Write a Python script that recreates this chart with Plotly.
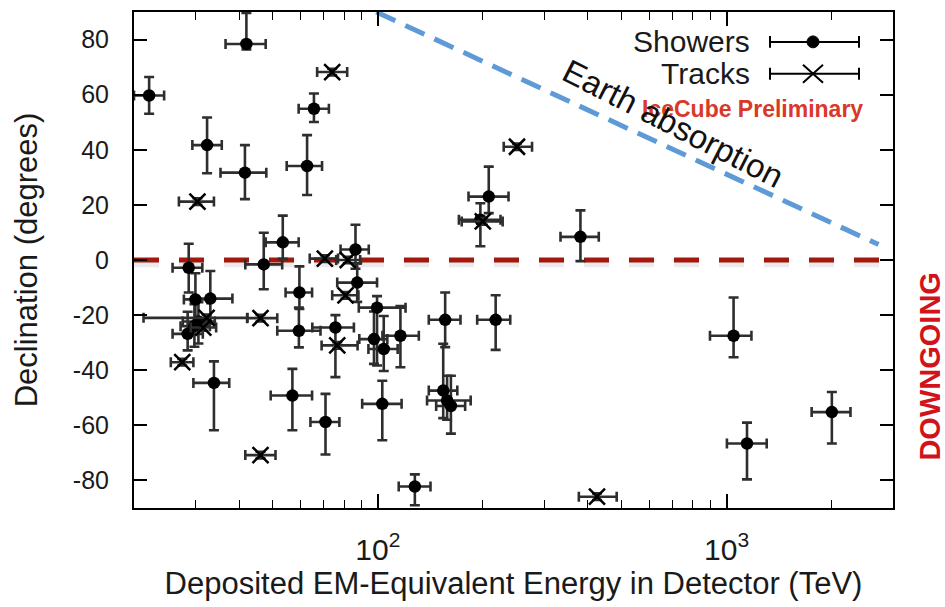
import plotly.graph_objects as go

# ---------------- data ----------------
shower_energy = [42.0, 22.1, 65.6, 32.4, 41.6, 62.7, 53.4, 28.7, 30.0, 33.1,
                 30.6, 29.8, 28.5, 33.9, 47.1, 59.6, 59.4, 75.6, 86.3, 87.3,
                 99.5, 97.5, 104.0, 116.1, 103.0, 56.9, 70.8, 127.7, 156.0, 217.7,
                 154.0, 158.0, 162.0, 208.0, 196.8, 381.0, 1047.0, 1144.0, 2003.0]
shower_energy_minus = [5.4, 2.1, 6.3, 3.0, 6.2, 7.9, 5.7, 2.9, 2.2, 3.5,
                       3.0, 2.6, 2.7, 4.3, 5.4, 5.2, 7.9, 10.7, 8.1, 10.8,
                       11.3, 9.0, 10.0, 13.0, 12.8, 7.6, 6.7, 12.9, 16.0, 25.0,
                       14.0, 19.6, 15.0, 26.0, 26.0, 47.0, 151.0, 142.0, 250.0]
shower_energy_plus = [5.7, 2.3, 6.8, 3.3, 6.3, 6.5, 5.9, 2.7, 2.5, 5.2,
                      3.5, 3.2, 3.0, 3.6, 6.1, 5.2, 9.1, 9.8, 7.9, 12.2,
                      20.6, 9.0, 10.0, 15.0, 14.0, 7.9, 6.8, 13.9, 16.6, 22.0,
                      15.0, 26.6, 16.0, 29.0, 28.0, 49.0, 131.0, 159.0, 262.0]
shower_dec = [78.4, 59.7, 54.9, 41.7, 31.7, 34.1, 6.4, -2.8, -14.3, -14.0,
              -22.3, -24.0, -26.8, -44.6, -1.6, -11.8, -25.7, -24.5, 3.8, -8.2,
              -17.3, -28.7, -32.3, -27.5, -52.2, -49.2, -58.8, -82.2, -21.7, -21.7,
              -47.4, -51.0, -53.0, 23.0, 14.6, 8.4, -27.5, -66.6, -55.2]
shower_dec_minus = [2.0, 6.6, 4.8, 10.2, 9.6, 10.5, 6.0, 9.0, 9.0, 9.0,
                    8.0, 7.5, 6.0, 17.2, 9.0, 6.0, 6.0, 18.0, 7.0, 7.0,
                    21.0, 9.0, 8.0, 11.4, 13.2, 12.6, 11.8, 6.8, 9.9, 10.9,
                    10.0, 7.0, 10.0, 6.0, 9.6, 8.8, 7.8, 13.0, 11.4]
shower_dec_plus = [11.3, 6.7, 5.5, 10.0, 10.0, 11.2, 9.7, 8.7, 9.5, 10.0,
                   7.0, 8.0, 8.0, 7.8, 11.5, 9.5, 8.4, 4.5, 9.0, 7.0,
                   4.2, 10.0, 12.0, 10.8, 8.4, 9.7, 10.2, 4.4, 9.9, 8.9,
                   17.0, 9.0, 11.0, 10.9, 6.0, 9.6, 13.9, 7.6, 7.3]

track_energy = [74.0, 30.4, 250.6, 200.0, 70.5, 82.0, 80.8, 76.5, 46.1, 27.5,
                46.1, 425.0, 32.3, 31.6]
track_energy_minus = [7.0, 3.5, 21.0, 26.0, 6.7, 6.0, 6.8, 7.5, 3.9, 2.0,
                      4.4, 48.0, 11.0, 2.5]
track_energy_plus = [7.7, 3.5, 26.2, 28.0, 6.4, 7.0, 7.2, 11.0, 5.4, 2.1,
                     4.8, 59.0, 10.0, 2.8]
track_dec = [68.2, 21.2, 41.1, 14.0, 0.5, 0.0, -12.8, -31.0, -21.1, -37.1,
             -70.8, -85.9, -21.0, -24.5]
track_dec_err = [1.2] * len(track_dec)

# reference lines
zero_line_energy = [20, 2750]
zero_line_dec = [0, 0]
earth_line_energy = [99, 2726]
earth_line_dec = [90, 5.6]

x_tick_values = [100, 1000]
x_tick_text = ["10<sup>2</sup>", "10<sup>3</sup>"]
x_minor_values = [30, 40, 50, 60, 70, 80, 90, 200, 300, 400, 500, 600, 700, 800, 900, 2000]
y_tick_values = [-80, -60, -40, -20, 0, 20, 40, 60, 80]
y_tick_text = ["-80", "-60", "-40", "-20", "0", "20", "40", "60", "80"]

FONT = "Liberation Sans, Arial, Helvetica, sans-serif"
BAR = "#2e2e2e"

fig = go.Figure()

# zero (horizon) line with soft shadow
fig.add_trace(go.Scatter(x=zero_line_energy, y=[d - 1.4 for d in zero_line_dec], mode="lines",
                         line=dict(color="rgba(0,0,0,0.08)", width=7, dash="25px,20px"),
                         hoverinfo="skip", showlegend=False))
fig.add_trace(go.Scatter(x=zero_line_energy, y=zero_line_dec, mode="lines",
                         line=dict(color="#a3170d", width=5, dash="25px,20px"),
                         hoverinfo="skip", showlegend=False))
# Earth absorption line
fig.add_trace(go.Scatter(x=earth_line_energy, y=earth_line_dec, mode="lines",
                         line=dict(color="#5e9bd6", width=5, dash="21px,11px"),
                         hoverinfo="skip", showlegend=False))

fig.add_trace(go.Scatter(
    x=shower_energy, y=shower_dec, mode="markers", name="Showers",
    marker=dict(symbol="circle", size=12.5, color="black"),
    error_x=dict(type="data", symmetric=False, array=shower_energy_plus,
                 arrayminus=shower_energy_minus, color=BAR, thickness=2.6, width=5),
    error_y=dict(type="data", symmetric=False, array=shower_dec_plus,
                 arrayminus=shower_dec_minus, color=BAR, thickness=2.6, width=5),
    showlegend=False))

fig.add_trace(go.Scatter(
    x=track_energy, y=track_dec, mode="markers", name="Tracks",
    marker=dict(symbol="x-thin", size=16, color="black", line=dict(color="black", width=2.5)),
    error_x=dict(type="data", symmetric=False, array=track_energy_plus,
                 arrayminus=track_energy_minus, color=BAR, thickness=2.6, width=5),
    error_y=dict(type="data", array=track_dec_err, color=BAR, thickness=2.6, width=5),
    showlegend=False))

# ---------------- plot-area geometry in paper units ----------------
L, R, T, B = 134, 52, 10, 99
W, H = 945 - L - R, 607 - T - B


def px(xp):
    return (xp - L) / W


def py(yp):
    return 1 - (yp - T) / H


shapes = []
# legend glyphs (Showers row, Tracks row)
for row_y in (40, 72):
    yc = py(row_y)
    shapes.append(dict(type="line", xref="paper", yref="paper", x0=px(770), x1=px(859), y0=yc, y1=yc,
                       line=dict(color="black", width=2)))
    for xe in (770, 859):
        shapes.append(dict(type="line", xref="paper", yref="paper", x0=px(xe), x1=px(xe),
                           y0=yc - 6 / H, y1=yc + 6 / H, line=dict(color="black", width=2)))
yc = py(40)
shapes.append(dict(type="circle", xref="paper", yref="paper", x0=px(813) - 6 / W, x1=px(813) + 6 / W,
                   y0=yc - 6 / H, y1=yc + 6 / H, fillcolor="black", line=dict(color="black", width=1)))
yc = py(72)
for s in (1, -1):
    shapes.append(dict(type="line", xref="paper", yref="paper", x0=px(813) - 10 / W, x1=px(813) + 10 / W,
                       y0=yc - s * 9 / H, y1=yc + s * 9 / H, line=dict(color="black", width=2)))

annotations = [
    dict(text="Showers", xref="paper", yref="paper", x=px(752), y=py(40), xanchor="right", yanchor="middle",
         showarrow=False, font=dict(family=FONT, size=30, color="#1a1a1a")),
    dict(text="Tracks", xref="paper", yref="paper", x=px(752), y=py(72), xanchor="right", yanchor="middle",
         showarrow=False, font=dict(family=FONT, size=30, color="#1a1a1a")),
    dict(text="<b>IceCube Preliminary</b>", xref="paper", yref="paper", x=px(752), y=py(107),
         xanchor="center", yanchor="middle", showarrow=False,
         font=dict(family=FONT, size=23, color="#d8392a")),
    dict(text="Earth absorption", xref="paper", yref="paper", x=px(673), y=py(122),
         xanchor="center", yanchor="middle", textangle=27, showarrow=False,
         font=dict(family=FONT, size=33, color="#111111")),
    dict(text="<b>DOWNGOING</b>", xref="paper", yref="paper", x=px(930), y=py(366),
         xanchor="center", yanchor="middle", textangle=-90, showarrow=False,
         font=dict(family=FONT, size=29, color="#d0141a")),
]

fig.update_layout(
    width=945, height=607,
    margin=dict(l=L, r=R, t=T, b=B, pad=0),
    paper_bgcolor="white", plot_bgcolor="white",
    font=dict(family=FONT, color="#1a1a1a"),
    shapes=shapes, annotations=annotations,
    xaxis=dict(type="log", range=[1.30103, 3.477],
               tickmode="array", tickvals=x_tick_values, ticktext=x_tick_text,
               ticks="inside", ticklen=14, tickwidth=1.6, tickcolor="black",
               minor=dict(tickmode="array", tickvals=x_minor_values, ticks="inside",
                          ticklen=8, tickwidth=1.4, tickcolor="black", showgrid=False),
               showline=True, linewidth=2, linecolor="black", mirror="ticks",
               showgrid=False, zeroline=False,
               tickfont=dict(family=FONT, size=30, color="#1a1a1a"), ticklabelstandoff=14,
               title=dict(text="Deposited EM-Equivalent Energy in Detector (TeV)",
                          font=dict(family=FONT, size=31, color="#1a1a1a"), standoff=4)),
    yaxis=dict(range=[-90, 90], tickmode="array", tickvals=y_tick_values, ticktext=y_tick_text,
               ticks="inside", ticklen=13, tickwidth=1.6, tickcolor="black",
               showline=True, linewidth=2, linecolor="black", mirror="ticks",
               showgrid=False, zeroline=False,
               tickfont=dict(family=FONT, size=25, color="#1a1a1a"), ticklabelstandoff=18,
               title=dict(text="Declination (degrees)",
                          font=dict(family=FONT, size=31, color="#1a1a1a"), standoff=26)),
)

fig.write_html("out.html")
